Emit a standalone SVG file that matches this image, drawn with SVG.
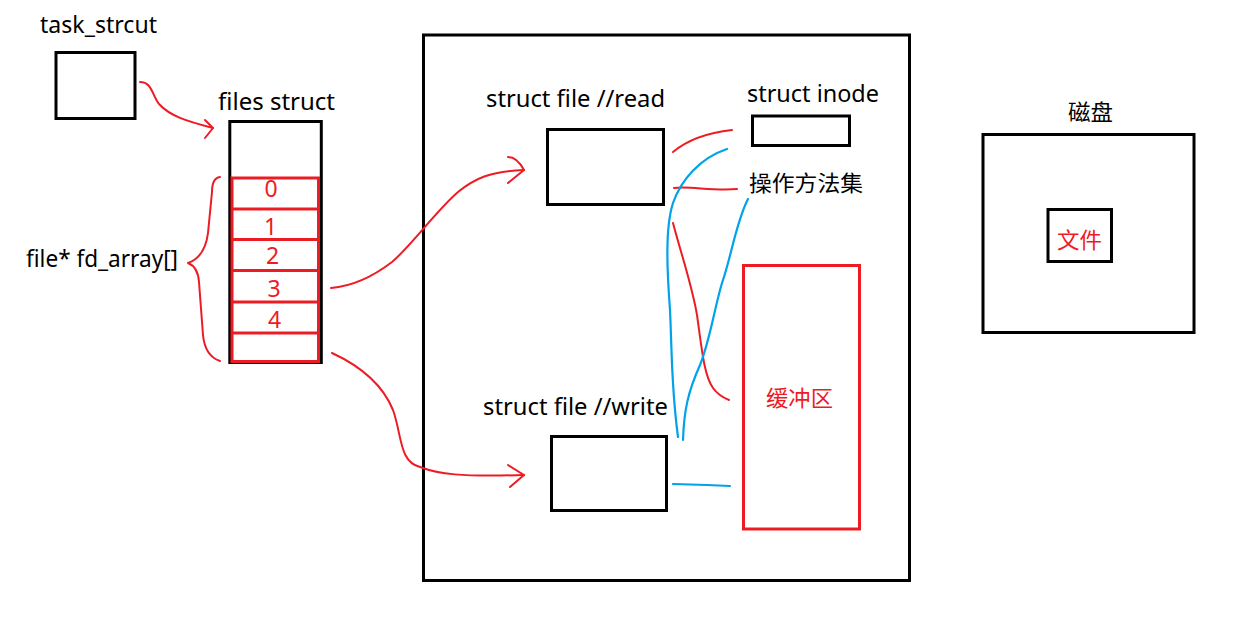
<svg xmlns="http://www.w3.org/2000/svg" width="1234" height="636" viewBox="0 0 1234 636">
<style>
.t{font-family:"Noto Sans","Open Sans","Noto Sans CJK SC",sans-serif;font-size:23px;fill:#000}
.c{font-family:"Noto Sans CJK SC","Noto Sans",sans-serif;font-size:22px;fill:#000}
.cr{font-family:"Noto Sans CJK SC","Noto Sans",sans-serif;font-size:22px;fill:#ED1C24}
.d{font-family:"Noto Sans","Open Sans",sans-serif;font-size:23px;fill:#ED1C24;text-anchor:middle}
.bx{fill:none;stroke:#000;stroke-width:3}
.rb{fill:none;stroke:#ED1C24;stroke-width:3}
.rl{fill:none;stroke:#ED1C24;stroke-width:2;stroke-linecap:round;stroke-linejoin:round}
.bl{fill:none;stroke:#00A2E8;stroke-width:2.2;stroke-linecap:round;stroke-linejoin:round}
</style>
<rect width="1234" height="636" fill="#fff"/>
<g id="task_struct">
<text class="t" x="40" y="33" textLength="117" lengthAdjust="spacingAndGlyphs">task_strcut</text>
<rect class="bx" x="56" y="52.5" width="79" height="66"/>
</g>
<g id="files_struct">
<text class="t" x="218" y="110" textLength="117" lengthAdjust="spacingAndGlyphs">files struct</text>
<rect class="bx" x="229.8" y="121.5" width="91.5" height="241"/>
<rect class="rb" x="232" y="178" width="86.5" height="183.5"/>
<path class="rb" d="M232,209H318.5M232,239.5H318.5M232,270.5H318.5M232,302H318.5M232,333H318.5"/>
<text class="d" x="271" y="197">0</text>
<text class="d" x="270.5" y="235">1</text>
<text class="d" x="272.5" y="263.5">2</text>
<text class="d" x="274" y="297">3</text>
<text class="d" x="274.5" y="327.5">4</text>
</g>
<g id="fd_array">
<text class="t" x="26" y="267" textLength="152" lengthAdjust="spacingAndGlyphs">file* fd_array[]</text>
<path class="rl" d="M220,177 Q212,178 212,192 L208,233 Q205,257 188,263 Q198,267 199,282 L203,335 Q205,356 220,361"/>
</g>
<g id="kernel">
<rect class="bx" x="423.5" y="35" width="486" height="545.5"/>
</g>
<g id="file_read">
<text class="t" x="486" y="107" textLength="179" lengthAdjust="spacingAndGlyphs">struct file //read</text>
<rect class="bx" x="547.5" y="129.5" width="116" height="75"/>
</g>
<g id="file_write">
<text class="t" x="483" y="415" textLength="185" lengthAdjust="spacingAndGlyphs">struct file //write</text>
<rect class="bx" x="551.5" y="436.5" width="115" height="74"/>
</g>
<g id="inode">
<text class="t" x="747" y="102" textLength="132" lengthAdjust="spacingAndGlyphs">struct inode</text>
<rect class="bx" x="752.5" y="116" width="97" height="29.5"/>
</g>
<g id="ops">
<text class="c" x="749" y="191" textLength="114" lengthAdjust="spacingAndGlyphs">操作方法集</text>
</g>
<g id="buffer">
<rect class="rb" x="743.5" y="265.5" width="116" height="263.5"/>
<text class="cr" x="766" y="406" textLength="67" lengthAdjust="spacingAndGlyphs">缓冲区</text>
</g>
<g id="disk">
<text class="c" x="1068" y="120" textLength="45" lengthAdjust="spacingAndGlyphs">磁盘</text>
<rect class="bx" x="983" y="134.5" width="211" height="198"/>
<rect class="bx" x="1048" y="209.5" width="63.5" height="52"/>
<text class="cr" x="1057" y="248" textLength="45" lengthAdjust="spacingAndGlyphs">文件</text>
</g>
<g id="connectors">
<path class="rl" d="M140,82 C152,82 152,95 159,104 C170,116 186,121 213,128"/>
<path class="rl" d="M205,120 L213,128 L205,138"/>
<path class="rl" d="M331,288 C355,286 375,275 392,262 C412,245 435,212 458,192 C474,179 490,171 524,170"/>
<path class="rl" d="M508,157 Q517,157 524,170 L508,183"/>
<path class="rl" d="M332,353 C358,365 382,383 393,410 C402,435 399,462 420,467 C438,474 460,477 524,475"/>
<path class="rl" d="M508,465 L524,475 L510,487"/>
<path class="rl" d="M673,152 C685,142 705,133 732,130"/>
<path class="rl" d="M674,188 C690,186 712,191 737,189"/>
<path class="rl" d="M673,223 C680,250 692,285 697,315 C702,350 704,375 713,388 C718,395 724,398 729,400"/>
<path class="bl" d="M727,149 C700,158 681,180 673,203 C665,228 667,270 670,310 C672,350 671,385 678,437"/>
<path class="bl" d="M748,199 C736,222 731,258 722,283 C714,310 710,340 700,365 C688,392 684,410 683,440"/>
<path class="bl" d="M673,484 L707,485 L730,486"/>
</g>
</svg>
